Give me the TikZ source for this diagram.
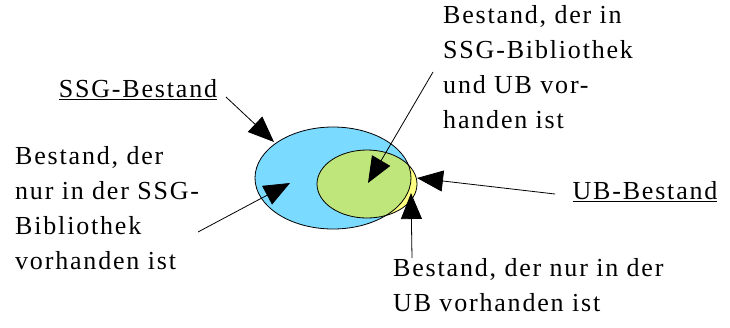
\documentclass[tikz,border=0pt]{standalone}
\usepackage{fontspec}
\setmainfont{Liberation Serif}[LetterSpace=7]
\usetikzlibrary{arrows.meta}
\definecolor{ssgblue}{RGB}{122,218,255}
\definecolor{ubyellow}{RGB}{255,255,130}
\definecolor{bothgreen}{RGB}{190,230,122}
\tikzset{
  lbl/.style={inner sep=0pt, align=left, font=\fontsize{26}{35}\selectfont},
  ptr/.style={-{Triangle[length=26pt,width=21pt]}, line width=0.8pt, shorten >=0pt},
}
\begin{document}
\begin{tikzpicture}[x=1pt,y=-1pt]
\useasboundingbox (0,0) rectangle (730,327);
% sets
\fill[ssgblue] (333,178) ellipse [x radius=78, y radius=51];
\fill[ubyellow] (367,184) ellipse [x radius=50, y radius=34];
\begin{scope}
  \clip (333,178) ellipse [x radius=78, y radius=51];
  \fill[bothgreen] (367,184) ellipse [x radius=50, y radius=34];
\end{scope}
\draw[line width=0.8pt] (333,178) ellipse [x radius=78, y radius=51];
\draw[line width=0.8pt] (367,184) ellipse [x radius=50, y radius=34];
% labels
\node[lbl, anchor=center] (ssg) at (138,90) {\underline{SSG-Bestand}};
\node[lbl, anchor=north west] (onlyssg) at (15,146) {Bestand, der\\nur in der SSG-\\Bibliothek\\vorhanden ist};
\node[lbl, anchor=north west] (both) at (443,5) {Bestand, der in\\SSG-Bibliothek\\und UB vor-\\handen ist};
\node[lbl, anchor=center] (ub) at (645,192) {\underline{UB-Bestand}};
\node[lbl, anchor=north west] (onlyub) at (393,258) {Bestand, der nur in der\\UB vorhanden ist};
% connector ends
\coordinate (ssgS) at (226,97);
\coordinate (ssgT) at (274,142);
\coordinate (onlyssgS) at (198,232);
\coordinate (onlyssgT) at (290,183);
\coordinate (bothS) at (433,72);
\coordinate (bothT) at (368,183);
\coordinate (ubS) at (555,194);
\coordinate (ubT) at (417,178);
\coordinate (onlyubS) at (412,258);
\coordinate (onlyubT) at (411,193);
\draw[ptr] (ssgS) -- (ssgT);
\draw[ptr] (onlyssgS) -- (onlyssgT);
\draw[ptr] (bothS) -- (bothT);
\draw[ptr] (ubS) -- (ubT);
\draw[ptr] (onlyubS) -- (onlyubT);
\end{tikzpicture}
\end{document}
